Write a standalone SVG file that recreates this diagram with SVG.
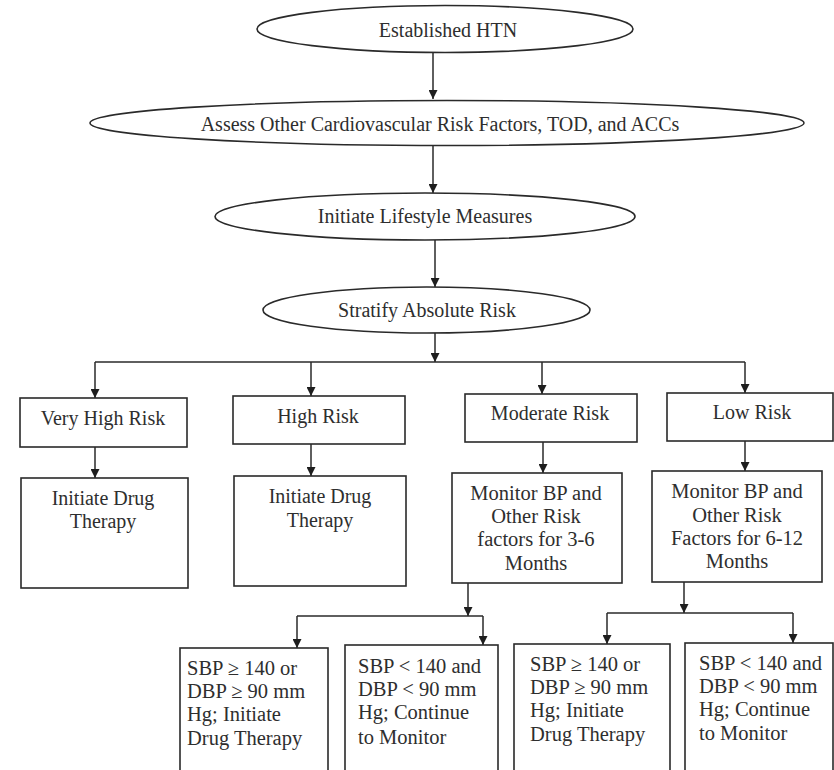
<svg xmlns="http://www.w3.org/2000/svg" width="834" height="770" viewBox="0 0 834 770">
<style>
.n{fill:#fff;stroke:#2a2a2a;stroke-width:1.6}
.t{font-family:"Liberation Serif","Times New Roman",serif;font-size:20px;fill:#2e2e2e}
.c{text-anchor:middle}
.b{font-size:20.5px}
.l{fill:none;stroke:#2a2a2a;stroke-width:1.5}
</style>
<defs>
<marker id="ah" viewBox="0 0 10 10" refX="10" refY="5" markerWidth="9" markerHeight="9" markerUnits="userSpaceOnUse" orient="auto">
<path d="M0,0 L10,5 L0,10 z" fill="#1e1e1e"/>
</marker>
</defs>
<rect width="834" height="770" fill="#fff"/>
<g id="connectors">
<path class="l" d="M433,52 V99" marker-end="url(#ah)"/>
<path class="l" d="M433,146 V193" marker-end="url(#ah)"/>
<path class="l" d="M435,240 V287" marker-end="url(#ah)"/>
<path class="l" d="M435,333 V362" marker-end="url(#ah)"/>
<path class="l" d="M95,362 H745"/>
<path class="l" d="M95,362 V398" marker-end="url(#ah)"/>
<path class="l" d="M311,362 V396" marker-end="url(#ah)"/>
<path class="l" d="M542,362 V394" marker-end="url(#ah)"/>
<path class="l" d="M745,362 V393" marker-end="url(#ah)"/>
<path class="l" d="M95,447 V478" marker-end="url(#ah)"/>
<path class="l" d="M311,444 V476" marker-end="url(#ah)"/>
<path class="l" d="M543,442 V473" marker-end="url(#ah)"/>
<path class="l" d="M745,441 V471" marker-end="url(#ah)"/>
<path class="l" d="M468,583 V616" marker-end="url(#ah)"/>
<path class="l" d="M297,616 H483"/>
<path class="l" d="M297,616 V648" marker-end="url(#ah)"/>
<path class="l" d="M483,616 V645" marker-end="url(#ah)"/>
<path class="l" d="M684,582 V613" marker-end="url(#ah)"/>
<path class="l" d="M607,613 H793"/>
<path class="l" d="M607,613 V644" marker-end="url(#ah)"/>
<path class="l" d="M793,613 V643" marker-end="url(#ah)"/>
</g>
<g id="established-htn">
<ellipse class="n" cx="445" cy="29" rx="188" ry="23.5"/>
<text class="t c" x="448" y="37">Established HTN</text>
</g>
<g id="assess-risk">
<ellipse class="n" cx="447" cy="123" rx="357" ry="22.5"/>
<text class="t c" x="440" y="131">Assess Other Cardiovascular Risk Factors, TOD, and ACCs</text>
</g>
<g id="lifestyle">
<ellipse class="n" cx="425" cy="216.5" rx="210" ry="23.5"/>
<text class="t c" x="425" y="223">Initiate Lifestyle Measures</text>
</g>
<g id="stratify">
<ellipse class="n" cx="426.5" cy="310" rx="163.5" ry="23"/>
<text class="t c" x="427" y="317">Stratify Absolute Risk</text>
</g>
<g id="very-high-risk">
<rect class="n" x="20" y="398" width="167" height="49"/>
<text class="t c" x="103" y="425">Very High Risk</text>
</g>
<g id="high-risk">
<rect class="n" x="233" y="396" width="172" height="48"/>
<text class="t c" x="318" y="423">High Risk</text>
</g>
<g id="moderate-risk">
<rect class="n" x="465" y="394" width="172" height="48"/>
<text class="t c" x="550" y="420">Moderate Risk</text>
</g>
<g id="low-risk">
<rect class="n" x="667" y="393" width="166" height="48"/>
<text class="t c" x="752" y="419">Low Risk</text>
</g>
<g id="vhr-drug">
<rect class="n" x="21" y="478" width="167" height="110"/>
<text class="t c" x="103" y="505">Initiate Drug</text>
<text class="t c" x="103" y="528">Therapy</text>
</g>
<g id="hr-drug">
<rect class="n" x="234" y="476" width="172" height="110"/>
<text class="t c" x="320" y="503">Initiate Drug</text>
<text class="t c" x="320" y="527">Therapy</text>
</g>
<g id="mr-monitor">
<rect class="n" x="452" y="473" width="170" height="110"/>
<text class="t c b" x="536" y="500">Monitor BP and</text>
<text class="t c b" x="536" y="523">Other Risk</text>
<text class="t c b" x="536" y="546">factors for 3-6</text>
<text class="t c b" x="536" y="570">Months</text>
</g>
<g id="lr-monitor">
<rect class="n" x="652" y="471" width="170" height="111"/>
<text class="t c b" x="737" y="498">Monitor BP and</text>
<text class="t c b" x="737" y="522">Other Risk</text>
<text class="t c b" x="737" y="545">Factors for 6-12</text>
<text class="t c b" x="737" y="568">Months</text>
</g>
<g id="mr-high">
<rect class="n" x="180" y="648" width="148" height="140"/>
<text class="t b" x="187" y="675">SBP ≥ 140 or</text>
<text class="t b" x="187" y="698">DBP ≥ 90 mm</text>
<text class="t b" x="187" y="721">Hg; Initiate</text>
<text class="t b" x="187" y="745">Drug Therapy</text>
</g>
<g id="mr-normal">
<rect class="n" x="345" y="645" width="153" height="140"/>
<text class="t b" x="358" y="673">SBP &lt; 140 and</text>
<text class="t b" x="358" y="696">DBP &lt; 90 mm</text>
<text class="t b" x="358" y="719">Hg; Continue</text>
<text class="t b" x="358" y="744">to Monitor</text>
</g>
<g id="lr-high">
<rect class="n" x="514" y="644" width="156" height="140"/>
<text class="t b" x="530" y="671">SBP ≥ 140 or</text>
<text class="t b" x="530" y="694">DBP ≥ 90 mm</text>
<text class="t b" x="530" y="717">Hg; Initiate</text>
<text class="t b" x="530" y="741">Drug Therapy</text>
</g>
<g id="lr-normal">
<rect class="n" x="685" y="643" width="148" height="140"/>
<text class="t b" x="699" y="670">SBP &lt; 140 and</text>
<text class="t b" x="699" y="693">DBP &lt; 90 mm</text>
<text class="t b" x="699" y="716">Hg; Continue</text>
<text class="t b" x="699" y="740">to Monitor</text>
</g>
</svg>
